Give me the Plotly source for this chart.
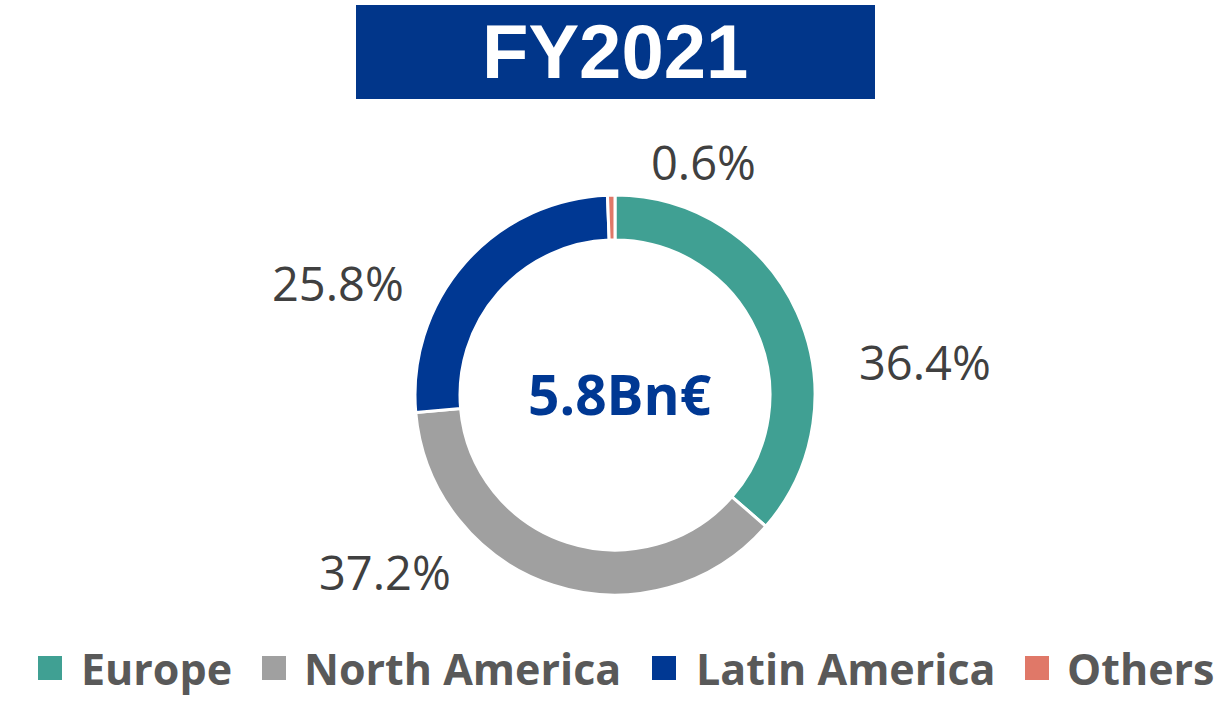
import plotly.graph_objects as go

regions = ["Europe", "North America", "Latin America", "Others"]
shares = [36.4, 37.2, 25.8, 0.6]
colors = ["#40A093", "#A0A0A0", "#003893", "#E07868"]
title_text = "FY2021"
center_text = "5.8Bn€"

W, H = 1230, 707
fig = go.Figure()
fig.add_trace(go.Pie(
    labels=regions, values=shares, sort=False, direction="clockwise", rotation=0,
    hole=0.775, marker=dict(colors=colors, line=dict(color="white", width=3)),
    textinfo="none", hoverinfo="label+percent",
    domain=dict(x=[415 / W, 815 / W], y=[(H - 595) / H, (H - 195) / H]),
    showlegend=False,
))


def px(x, y):
    return x / W, 1 - y / H


# outside percentage labels (positions chosen to match layout)
label_pos = [(925, 362), (385, 572), (338, 283), (703, 162)]
for v, (lx, ly) in zip(shares, label_pos):
    x, y = px(lx, ly)
    fig.add_annotation(x=x, y=y, xref="paper", yref="paper", xanchor="center", yanchor="middle",
                       text=f"{v:.1f}%", showarrow=False,
                       font=dict(family="Open Sans", size=47, color="#404040"))

x, y = px(620, 393)
fig.add_annotation(x=x, y=y, xref="paper", yref="paper", xanchor="center", yanchor="middle",
                   text=f"<b>{center_text}</b>", showarrow=False,
                   font=dict(family="Open Sans", size=55, color="#003893"))

fig.add_shape(type="rect", xref="paper", yref="paper",
              x0=356 / W, x1=875 / W, y0=1 - 99 / H, y1=1 - 5 / H,
              fillcolor="#01368A", line=dict(width=0), layer="below")
x, y = px(615, 52)
fig.add_annotation(x=x, y=y, xref="paper", yref="paper", xanchor="center", yanchor="middle",
                   text=f"<b>{title_text}</b>", showarrow=False,
                   font=dict(family="Liberation Sans", size=76, color="white"))

# legend row
sq_left = [38, 262, 652, 1025]
txt_left = [79, 302, 694, 1065]
leg_y = 668
for name, c, sx, tx in zip(regions, colors, sq_left, txt_left):
    fig.add_shape(type="rect", xref="paper", yref="paper",
                  x0=sx / W, x1=(sx + 24) / W, y0=1 - (leg_y + 12) / H, y1=1 - (leg_y - 12) / H,
                  fillcolor=c, line=dict(width=0))
    x, y = px(tx, leg_y)
    fig.add_annotation(x=x, y=y, xref="paper", yref="paper", xanchor="left", yanchor="middle",
                       text=f"<b>{name}</b>", showarrow=False,
                       font=dict(family="Open Sans", size=43, color="#595959"))

fig.update_layout(
    width=W, height=H, margin=dict(l=0, r=0, t=0, b=0),
    paper_bgcolor="white", plot_bgcolor="white", showlegend=False,
)
fig.write_html("out.html", config={"displayModeBar": False},
               post_script="document.body.style.margin='0px';")
